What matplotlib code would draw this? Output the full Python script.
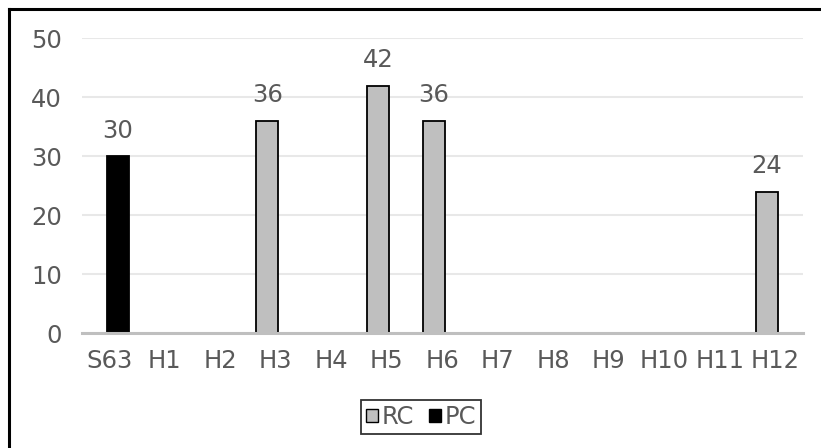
import matplotlib
matplotlib.use("Agg")
import matplotlib.pyplot as plt
from matplotlib.patches import Patch
from matplotlib.lines import Line2D
import numpy as np

plt.rcParams["font.family"] = ["DejaVu Sans"]

TEXT = "#595959"
GRID = "#E8E8E8"
AXIS = "#BFBFBF"
RC_COLOR = "#BFBFBF"
PC_COLOR = "#000000"
FS = 17.5

categories = ["S63", "H1", "H2", "H3", "H4", "H5", "H6",
              "H7", "H8", "H9", "H10", "H11", "H12"]
rc_values = [0, 0, 0, 36, 0, 42, 36, 0, 0, 0, 0, 0, 24]
pc_values = [30, 0, 0, 0, 0, 0, 0, 0, 0, 0, 0, 0, 0]
y_ticks = [0, 10, 20, 30, 40, 50]

fig = plt.figure(figsize=(8.21, 4.48), dpi=100)
ax = fig.add_axes([0.0995, 0.2556, 0.8785, 0.6589])

x = np.arange(len(categories))
width = 0.40
shift = 0.153

rc_bars = ax.bar(x - shift, rc_values, width, color=RC_COLOR,
                 edgecolor="black", linewidth=1.3, zorder=3)
pc_bars = ax.bar(x + shift, pc_values, width, color=PC_COLOR,
                 edgecolor="black", linewidth=1.3, zorder=3)

# value labels only on non-empty bars
for bars, vals in ((rc_bars, rc_values), (pc_bars, pc_values)):
    for b, v in zip(bars, vals):
        if v:
            ax.annotate(str(v), (b.get_x() + b.get_width() / 2, v),
                        xytext=(0, 13.5), textcoords="offset points",
                        ha="center", va="baseline", fontsize=FS, color=TEXT)

ax.set_xlim(-0.5, len(categories) - 0.5)
ax.set_ylim(0, 50)
ax.set_yticks(y_ticks)
ax.set_xticks(x)
ax.set_xticklabels(categories)

ax.grid(axis="y", color=GRID, linewidth=1.5, zorder=0)
for side in ("top", "right", "left"):
    ax.spines[side].set_visible(False)
ax.spines["bottom"].set_color(AXIS)
ax.spines["bottom"].set_linewidth(2.2)
ax.spines["bottom"].set_zorder(4)

ax.tick_params(axis="both", length=0, labelsize=FS, labelcolor=TEXT)
ax.tick_params(axis="y", pad=14)
ax.tick_params(axis="x", pad=11)

handles = [Patch(facecolor=RC_COLOR, edgecolor="black", linewidth=1.0),
           Patch(facecolor=PC_COLOR, edgecolor="black", linewidth=1.0)]
leg = fig.legend(handles, ["RC", "PC"], loc="center",
                 bbox_to_anchor=(0.513, 0.069), ncol=2, fontsize=FS,
                 handlelength=0.5, handleheight=0.5, handletextpad=0.15,
                 columnspacing=0.6, borderpad=0.2, frameon=True,
                 fancybox=False, labelcolor=TEXT)
leg.get_frame().set_edgecolor("black")
leg.get_frame().set_linewidth(1.3)

# chart frame, left and top edges
fig.add_artist(Line2D([8.5 / 821, 8.5 / 821], [0, 1 - 9 / 448],
                      transform=fig.transFigure, color="black", linewidth=2.2))
fig.add_artist(Line2D([8.5 / 821, 1], [1 - 9 / 448, 1 - 9 / 448],
                      transform=fig.transFigure, color="black", linewidth=2.2))

fig.savefig("out.png", dpi=100)
